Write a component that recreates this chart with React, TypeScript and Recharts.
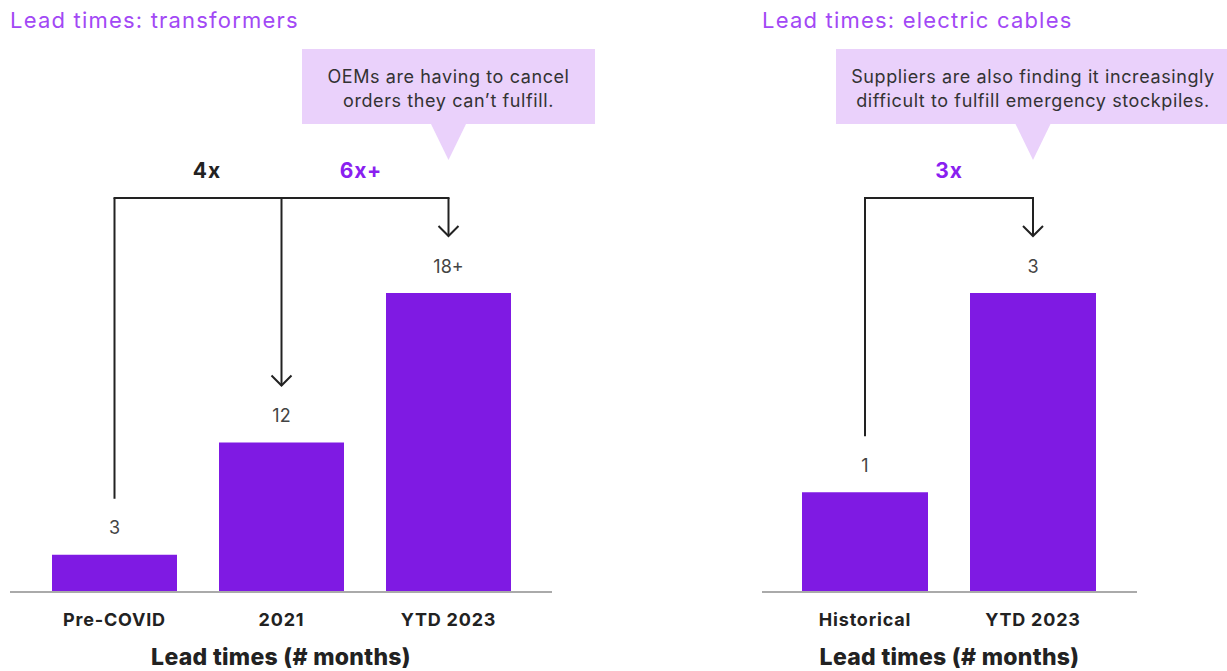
import { BarChart, Bar, XAxis, YAxis, LabelList } from 'recharts';

// Transformers
const transformerCategories = ['Pre-COVID', '2021', 'YTD 2023'];
const transformerValues = [3, 12, 24];
const transformerLabels = ['3', '12', '18+'];
const transformerMultipliers = ['4x', '6x+'];
const transformerMultiplierColors = ['#222222', '#8a1ff0'];
const transformerNote = ['OEMs are having to cancel', 'orders they can\u2019t fulfill.'];

// Electric cables
const cableCategories = ['Historical', 'YTD 2023'];
const cableValues = [1, 3];
const cableLabels = ['1', '3'];
const cableMultipliers = ['3x'];
const cableMultiplierColors = ['#8a1ff0'];
const cableNote = ['Suppliers are also finding it increasingly', 'difficult to fulfill emergency stockpiles.'];

const BAR = '#7f1ae3';
const TITLE = '#a248f5';
const NOTE_BG = '#ead1fb';
const INK = '#222222';

type PanelProps = {
  title: string;
  categories: string[];
  values: number[];
  labels: string[];
  multipliers: string[];
  multiplierColors: string[];
  multiplierDx: number[];
  note: string[];
  noteWidth: number;
  yMax: number;
  left: number;
  width: number;
  marginLeft: number;
  marginRight: number;
  padding: { left: number; right: number };
  barSize: number;
};

function Panel(p: PanelProps) {
  const data = p.categories.map((c, i) => ({ name: c, value: p.values[i], label: p.labels[i] }));
  const n = data.length;
  const pts: { cx: number; top: number }[] = [];

  // value labels, plus the bracket/arrows and callout once every bar is known
  const renderLabel = (props: any) => {
    const { x, y, width, index, value } = props;
    const cx = Number(x) + Number(width) / 2;
    const top = Number(y);
    pts[index] = { cx, top };
    const labelY = top - 27;
    const out: any[] = [
      <text key="v" x={cx} y={labelY} textAnchor="middle" dominantBaseline="central" fontSize={18} fill="#444">
        {value}
      </text>,
    ];
    if (index === n - 1) {
      const by = top - 95;
      const src = pts[0];
      out.push(
        <line key="s" x1={src.cx} y1={src.top - 27 - 29} x2={src.cx} y2={by} stroke={INK} strokeWidth={2} />,
        <line key="h" x1={src.cx - 1} y1={by} x2={cx + 1} y2={by} stroke={INK} strokeWidth={2} />
      );
      for (let i = 1; i < n; i++) {
        const t = pts[i];
        const tip = t.top - 27 - 30;
        out.push(
          <line key={'t' + i} x1={t.cx} y1={by} x2={t.cx} y2={tip} stroke={INK} strokeWidth={2} />,
          <polyline key={'a' + i} points={`${t.cx - 10},${tip - 10} ${t.cx},${tip} ${t.cx + 10},${tip - 10}`} fill="none" stroke={INK} strokeWidth={2} />,
          <text key={'m' + i} x={(pts[i - 1].cx + t.cx) / 2 + p.multiplierDx[i - 1]} y={by - 28} textAnchor="middle" dominantBaseline="central" fontSize={21} fontWeight={700} letterSpacing={1} fill={p.multiplierColors[i - 1]}>
            {p.multipliers[i - 1]}
          </text>
        );
      }
      const boxTop = by - 149;
      const boxBottom = by - 74;
      out.push(
        <rect key="nb" x={cx - p.noteWidth / 2} y={boxTop} width={p.noteWidth} height={boxBottom - boxTop} fill={NOTE_BG} />,
        <polygon key="np" points={`${cx - 18},${boxBottom - 1} ${cx + 18},${boxBottom - 1} ${cx},${by - 38}`} fill={NOTE_BG} />
      );
      p.note.forEach((line, k) => {
        out.push(
          <text key={'nt' + k} x={cx} y={boxTop + 27 + k * 24} textAnchor="middle" dominantBaseline="central" fontSize={18} letterSpacing={0.6} fill="#333">
            {line}
          </text>
        );
      });
    }
    return <g>{out}</g>;
  };

  return (
    <div style={{ position: 'absolute', left: p.left, top: 0, width: p.width, height: 671 }}>
      <div style={{ position: 'absolute', left: p.marginLeft, top: 6, fontSize: 22, letterSpacing: 1.2, color: TITLE, whiteSpace: 'nowrap', lineHeight: '28px' }}>
        {p.title}
      </div>
      <BarChart width={p.width} height={671} data={data} margin={{ top: 293, right: p.marginRight, left: p.marginLeft, bottom: 49 }}>
        <XAxis
          dataKey="name"
          height={30}
          padding={p.padding}
          tickLine={false}
          axisLine={{ stroke: '#aaaaaa', strokeWidth: 2 }}
          tick={{ fontSize: 18, fontWeight: 700, fill: INK, letterSpacing: 0.8 }}
          tickMargin={15}
          interval={0}
          label={{ value: 'Lead times (# months)', position: 'bottom', offset: 27, fontSize: 23, fontWeight: 800, fill: INK, letterSpacing: 0.3 }}
        />
        <YAxis hide domain={[0, p.yMax]} />
        <Bar dataKey="value" fill={BAR} barSize={p.barSize} isAnimationActive={false}>
          <LabelList dataKey="label" content={renderLabel} />
        </Bar>
      </BarChart>
    </div>
  );
}

export default function App() {
  return (
    <div style={{ position: 'absolute', left: 0, top: 0, width: 1227, height: 671, background: '#fff', fontFamily: 'Inter, sans-serif', overflow: 'hidden' }}>
      <Panel
        title="Lead times: transformers"
        categories={transformerCategories}
        values={transformerValues}
        labels={transformerLabels}
        multipliers={transformerMultipliers}
        multiplierColors={transformerMultiplierColors}
        multiplierDx={[9, -4]}
        note={transformerNote}
        noteWidth={293}
        yMax={24}
        left={0}
        width={600}
        marginLeft={10}
        marginRight={48}
        padding={{ left: 21, right: 20 }}
        barSize={125}
      />
      <Panel
        title="Lead times: electric cables"
        categories={cableCategories}
        values={cableValues}
        labels={cableLabels}
        multipliers={cableMultipliers}
        multiplierColors={cableMultiplierColors}
        multiplierDx={[0]}
        note={cableNote}
        noteWidth={394}
        yMax={3}
        left={600}
        width={627}
        marginLeft={162}
        marginRight={90}
        padding={{ left: 19, right: 20 }}
        barSize={126}
      />
    </div>
  );
}
